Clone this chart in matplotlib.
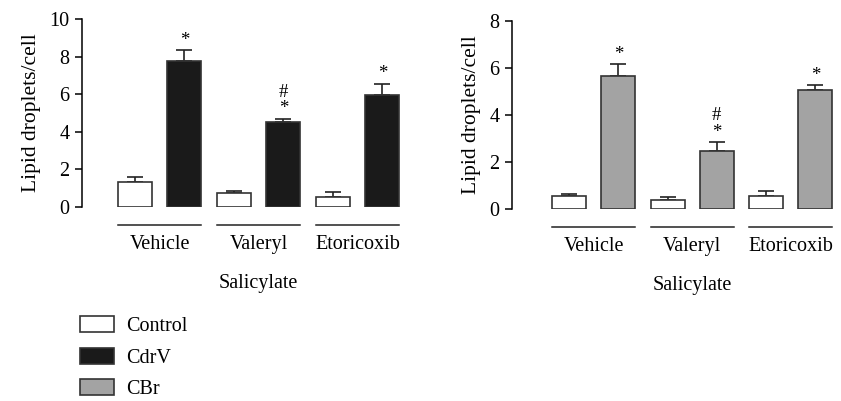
import numpy as np
import matplotlib
matplotlib.use('Agg')
import matplotlib.pyplot as plt
from matplotlib.patches import Patch
import matplotlib.transforms as mtransforms

plt.rcParams['font.family'] = ['Liberation Serif', 'DejaVu Serif']
plt.rcParams['font.size'] = 14.5

# data
groups = ['Vehicle', 'Valeryl', 'Etoricoxib']
group_title = 'Salicylate'

left_control = [1.35, 0.75, 0.55]
left_control_err = [0.25, 0.10, 0.25]
left_cdrv = [7.75, 4.50, 5.95]
left_cdrv_err = [0.60, 0.20, 0.60]

right_control = [0.55, 0.40, 0.55]
right_control_err = [0.10, 0.10, 0.20]
right_cbr = [5.65, 2.45, 5.05]
right_cbr_err = [0.50, 0.40, 0.20]

# significance marks on the treated bars
marks = ['*', '#\n*', '*']

legend_labels = ['Control', 'CdrV', 'CBr']
col_control = 'white'
col_cdrv = '#1a1a1a'
col_cbr = '#a3a3a3'
edge = '#333333'

W, H = 841, 401
fig = plt.figure(figsize=(W / 100, H / 100), dpi=100)


def panel(rect, ctrl, ctrl_err, trt, trt_err, trt_color, ymax, yticks, xlim):
    ax = fig.add_axes(rect)
    x = np.arange(len(groups)) * 2
    bw = 0.69
    ax.bar(x, ctrl, bw, color=col_control, edgecolor=edge, linewidth=1.2, zorder=2)
    ax.bar(x + 1, trt, bw, color=trt_color, edgecolor=edge, linewidth=1.2, zorder=2)
    ax.errorbar(x, ctrl, yerr=[np.zeros(len(ctrl)), ctrl_err], fmt='none',
                ecolor='#222222', elinewidth=1.2, capsize=6, capthick=1.2, zorder=1)
    ax.errorbar(x + 1, trt, yerr=[np.zeros(len(trt)), trt_err], fmt='none',
                ecolor='#222222', elinewidth=1.2, capsize=6, capthick=1.2, zorder=1)
    for xi, v, e, m in zip(x + 1, trt, trt_err, marks):
        ax.annotate(m, (xi, v + e), xytext=(0, 1), textcoords='offset points',
                    ha='center', va='bottom', fontsize=13.5, linespacing=0.95)

    ax.set_xlim(*xlim)
    ax.set_ylim(0, ymax)
    ax.set_yticks(yticks)
    ax.set_xticks([])
    for s in ['top', 'right', 'bottom']:
        ax.spines[s].set_visible(False)
    ax.spines['left'].set_linewidth(1.1)
    ax.tick_params(axis='y', length=5, width=1.1, pad=4)
    ax.set_ylabel('Lipid droplets/cell', labelpad=6, fontsize=15.5)

    # group underlines and labels below the axis
    tr = mtransforms.blended_transform_factory(ax.transData, ax.transAxes)
    for xi, g in zip(x, groups):
        ax.plot([xi - bw / 2, xi + 1 + bw / 2], [-0.095, -0.095], color='#222222',
                lw=1.1, transform=tr, clip_on=False)
        ax.text(xi + 0.5, -0.20, g, transform=tr, ha='center', va='center')
    ax.text(x.mean() + 0.5, -0.405, group_title, transform=tr, ha='center', va='center')
    return ax


def frac(l, t, r, b):
    return [l / W, 1 - b / H, (r - l) / W, (b - t) / H]


panel(frac(82, 19, 412, 207), left_control, left_control_err, left_cdrv,
      left_cdrv_err, col_cdrv, 10, [0, 2, 4, 6, 8, 10], (-1.07, 5.6))
panel(frac(512, 20.7, 835, 209), right_control, right_control_err, right_cbr,
      right_cbr_err, col_cbr, 8, [0, 2, 4, 6, 8], (-1.16, 5.4))

handles = [Patch(facecolor=c, edgecolor=edge, linewidth=1.2)
           for c in [col_control, col_cdrv, col_cbr]]
fig.legend(handles, legend_labels, loc='upper left', bbox_to_anchor=(72 / W, 1 - 308 / H),
           frameon=False, handlelength=1.7, handleheight=0.85, handletextpad=0.6,
           labelspacing=0.58, borderaxespad=0)

fig.savefig('out.png', dpi=100)
